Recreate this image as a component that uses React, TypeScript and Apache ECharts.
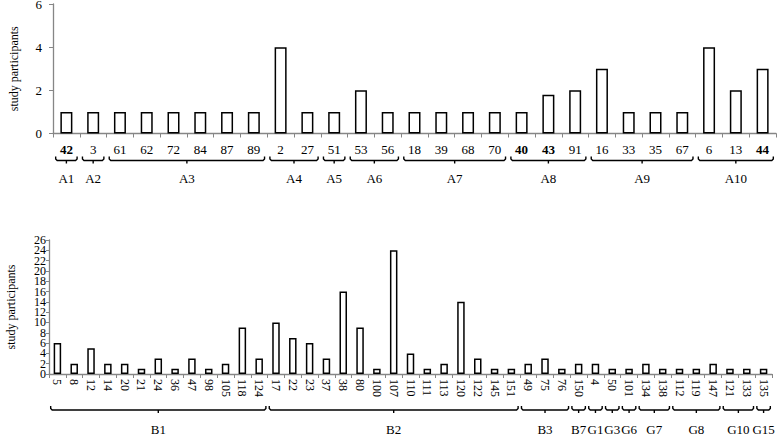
import React, { useEffect, useRef } from "react";
import * as echarts from "echarts";

const topCategories = ["42", "3", "61", "62", "72", "84", "87", "89", "2", "27", "51", "53", "56", "18", "39", "68", "70", "40", "43", "91", "16", "33", "35", "67", "6", "13", "44"];
const topValues = [1, 1, 1, 1, 1, 1, 1, 1, 4, 1, 1, 2, 1, 1, 1, 1, 1, 1, 1.8, 2, 3, 1, 1, 1, 4, 2, 3];
const topBoldLabels = ["42", "40", "43", "44"];
const topGroupNames = ["A1", "A2", "A3", "A4", "A5", "A6", "A7", "A8", "A9", "A10"];
const topGroupStart = [0, 1, 2, 8, 10, 11, 13, 17, 20, 24];
const topGroupEnd = [0, 1, 7, 9, 10, 12, 16, 19, 23, 26];

const bottomCategories = [
  "5", "8", "12", "14", "20", "21", "24", "36", "47", "98", "105", "118", "124",
  "17", "22", "23", "37", "38", "80", "100", "107", "110", "111", "113", "120", "122", "145", "151",
  "49", "75", "76", "150", "4", "50", "101", "134", "138", "112", "119", "147", "121", "133", "135",
];
const bottomValues = [
  6, 2, 5, 2, 2, 1, 3, 1, 3, 1, 2, 9, 3,
  10, 7, 6, 3, 16, 9, 1, 24, 4, 1, 2, 14, 3, 1, 1,
  2, 3, 1, 2, 2, 1, 1, 2, 1, 1, 1, 2, 1, 1, 1,
];
const bottomGroupNames = ["B1", "B2", "B3", "B7", "G1", "G3", "G6", "G7", "G8", "G10", "G15"];
const bottomGroupStart = [0, 13, 28, 31, 32, 33, 34, 35, 37, 40, 42];
const bottomGroupEnd = [12, 27, 30, 31, 32, 33, 34, 36, 39, 41, 42];

const FONT = "Liberation Serif";
const AXIS_GRAY = "#868686";

function bracketRenderer(names: string[], offset: number, labelOffset: number, fontSize: number) {
  return (params: any, api: any) => {
    const s = api.value(0);
    const e = api.value(1);
    const p1 = api.coord([s, 0]);
    const p2 = api.coord([e, 0]);
    const bw = api.size([1, 0])[0];
    const x1 = p1[0] - bw * 0.4;
    const x2 = p2[0] + bw * 0.4;
    const y = p1[1] + offset;
    const xm = (x1 + x2) / 2;
    return {
      type: "group",
      children: [
        {
          type: "polyline",
          shape: { points: [[x1, y - 4], [x1, y - 1.5], [x1 + 1.5, y], [x2 - 1.5, y], [x2, y - 1.5], [x2, y - 4]] },
          style: { stroke: "#000", lineWidth: 1.4, fill: null },
        },
        {
          type: "line",
          shape: { x1: xm, y1: y, x2: xm, y2: y + 3 },
          style: { stroke: "#000", lineWidth: 1.4 },
        },
        {
          type: "text",
          x: xm,
          y: y + labelOffset,
          style: {
            text: names[params.dataIndex],
            fill: "#000",
            fontSize,
            fontFamily: FONT,
            align: "center",
            verticalAlign: "middle",
          },
        },
      ],
    };
  };
}

export default function App() {
  const ref = useRef<HTMLDivElement>(null);
  useEffect(() => {
    document.body.style.margin = "0";
    if (!ref.current) return;
    const chart = echarts.init(ref.current, undefined, { renderer: "svg" });
    const barStyle = { color: "#ffffff", borderColor: "#000000", borderWidth: 1.5 };
    const axisLine = { show: true, lineStyle: { color: AXIS_GRAY, width: 1.3 } };
    const bottomYBase = {
      type: "value",
      gridIndex: 1,
      position: "left",
      offset: 0,
      min: 0,
      max: 26,
      interval: 2,
      splitLine: { show: false },
    };
    chart.setOption({
      animation: false,
      backgroundColor: "#ffffff",
      textStyle: { fontFamily: FONT },
      grid: [
        { left: 53, top: 4, width: 723, height: 129.5, outerBoundsMode: "none" },
        { left: 49, top: 240, width: 723, height: 134, outerBoundsMode: "none" },
      ],
      xAxis: [
        {
          type: "category",
          gridIndex: 0,
          data: topCategories,
          axisLine,
          axisTick: { show: true, length: 4, lineStyle: { color: AXIS_GRAY } },
          axisLabel: {
            interval: 0,
            margin: 9,
            color: "#000",
            fontSize: 13,
            fontFamily: FONT,
            formatter: (v: string) => (topBoldLabels.includes(v) ? `{b|${v}}` : v),
            rich: { b: { fontWeight: "bold", fontSize: 13, fontFamily: FONT, color: "#000" } },
          },
        },
        {
          type: "category",
          gridIndex: 1,
          data: bottomCategories,
          axisLine,
          axisTick: { show: true, length: 4, lineStyle: { color: AXIS_GRAY } },
          axisLabel: { interval: 0, rotate: -90, margin: 5, color: "#000", fontSize: 12, fontFamily: FONT },
        },
      ],
      yAxis: [
        {
          type: "value",
          gridIndex: 0,
          position: "left",
          min: 0,
          max: 6,
          interval: 2,
          name: "study participants",
          nameLocation: "middle",
          nameGap: 33,
          nameTextStyle: { color: "#000", fontSize: 12, fontFamily: FONT },
          axisLine,
          axisTick: { show: true, length: 4, lineStyle: { color: AXIS_GRAY } },
          splitLine: { show: false },
          axisLabel: { color: "#000", fontSize: 13, fontFamily: FONT, margin: 11, showMinLabel: true, showMaxLabel: true },
        },
        {
          ...bottomYBase,
          name: "study participants",
          nameLocation: "middle",
          nameGap: 32,
          nameTextStyle: { color: "#000", fontSize: 12, fontFamily: FONT },
          axisLine,
          axisTick: { show: true, length: 3, lineStyle: { color: AXIS_GRAY } },
          axisLabel: {
            color: "#000",
            fontSize: 12,
            fontFamily: FONT,
            margin: 3,
            showMinLabel: true,
            showMaxLabel: true,
            formatter: (v: number) => (v % 4 === 0 ? String(v) : ""),
          },
        },
        {
          ...bottomYBase,
          axisLine: { show: false },
          axisTick: { show: false },
          axisLabel: {
            color: "#000",
            fontSize: 12,
            fontFamily: FONT,
            margin: 3,
            showMinLabel: true,
            showMaxLabel: true,
            formatter: (v: number) => (v % 4 === 2 ? String(v) : ""),
          },
        },
      ],
      series: [
        {
          type: "bar",
          xAxisIndex: 0,
          yAxisIndex: 0,
          data: topValues,
          barWidth: 12,
          itemStyle: barStyle,
          silent: true,
        },
        {
          type: "bar",
          xAxisIndex: 1,
          yAxisIndex: 1,
          data: bottomValues,
          barWidth: 7.5,
          itemStyle: barStyle,
          silent: true,
        },
        {
          type: "custom",
          xAxisIndex: 0,
          yAxisIndex: 0,
          clip: false,
          silent: true,
          encode: { x: [0, 1], y: 2 },
          data: topGroupNames.map((_, i) => [topGroupStart[i], topGroupEnd[i], 0]),
          renderItem: bracketRenderer(topGroupNames, 27, 18, 13),
        },
        {
          type: "custom",
          xAxisIndex: 1,
          yAxisIndex: 1,
          clip: false,
          silent: true,
          encode: { x: [0, 1], y: 2 },
          data: bottomGroupNames.map((_, i) => [bottomGroupStart[i], bottomGroupEnd[i], 0]),
          renderItem: bracketRenderer(bottomGroupNames, 36, 19, 13),
        },
      ],
    });
    return () => chart.dispose();
  }, []);
  return <div ref={ref} style={{ width: 777, height: 436 }} />;
}
